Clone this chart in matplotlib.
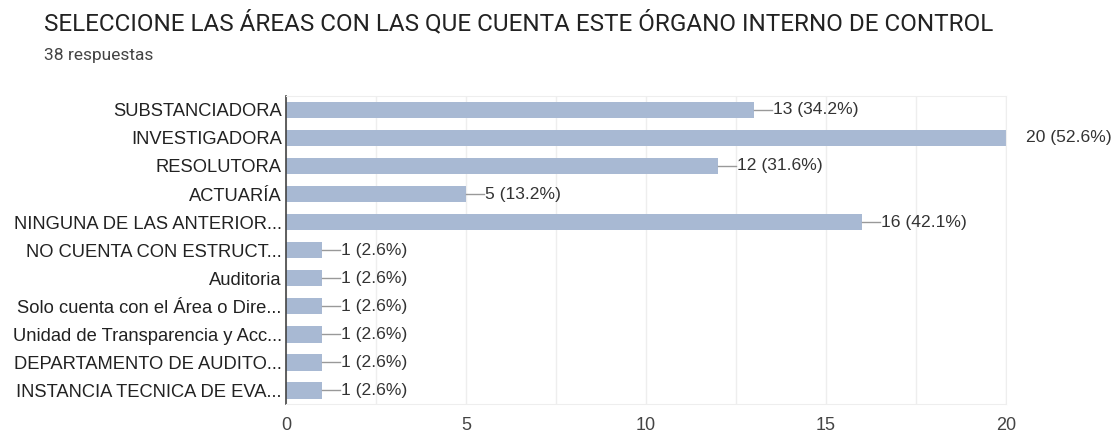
import numpy as np
import matplotlib.pyplot as plt

plt.rcParams['font.family'] = ['Liberation Sans', 'DejaVu Sans']

# data
categorias = ['SUBSTANCIADORA', 'INVESTIGADORA', 'RESOLUTORA', 'ACTUARÍA',
              'NINGUNA DE LAS ANTERIOR...', 'NO CUENTA CON ESTRUCT...',
              'Auditoria', 'Solo cuenta con el Área o Dire...',
              'Unidad de Transparencia y Acc...', 'DEPARTAMENTO DE AUDITO...',
              'INSTANCIA TECNICA DE EVA...']
conteos = [13, 20, 12, 5, 16, 1, 1, 1, 1, 1, 1]
porcentajes = [34.2, 52.6, 31.6, 13.2, 42.1, 2.6, 2.6, 2.6, 2.6, 2.6, 2.6]
xticks = [0, 5, 10, 15, 20]

fig = plt.figure(figsize=(11.17, 4.36), dpi=100)
ax = fig.add_axes([0.256, 0.073, 0.6446, 0.707])

y = np.arange(len(categorias))
ax.barh(y, conteos, height=0.6, color='#a8b9d3', zorder=2)

# value labels with the short connector line (none on the longest bar)
for yi, c, p in zip(y, conteos, porcentajes):
    if c == max(conteos):
        ax.text(c + 0.55, yi, f'{c} ({p}%)', va='center', ha='left',
                fontsize=12.6, color='#333333')
    else:
        ax.plot([c, c + 0.5], [yi, yi], color='#999999', lw=1, zorder=2)
        ax.text(c + 0.52, yi, f'{c} ({p}%)', va='center', ha='left',
                fontsize=12.6, color='#333333')

ax.set_xlim(0, 20)
ax.set_ylim(len(categorias) - 0.5, -0.5)
ax.set_yticks(y)
ax.set_yticklabels(categorias, fontsize=13.2, color='#222222')
ax.set_xticks(xticks)
ax.set_xticklabels([str(t) for t in xticks], fontsize=13, color='#444444')
ax.set_xticks(np.arange(0, 20.1, 2.5), minor=True)
ax.grid(axis='x', which='both', color='#eeeeee', lw=1, zorder=0)
ax.tick_params(axis='both', which='both', length=0)
ax.tick_params(axis='x', pad=9)
ax.tick_params(axis='y', pad=3)

for s in ['top', 'right', 'bottom']:
    ax.spines[s].set_color('#eeeeee')
ax.spines['left'].set_color('#444444')
ax.spines['left'].set_linewidth(1.2)

fig.text(0.039, 0.948, 'SELECCIONE LAS ÁREAS CON LAS QUE CUENTA ESTE ÓRGANO INTERNO DE CONTROL',
         fontsize=17.5, family='Roboto', color='#222222', va='center')
fig.text(0.039, 0.873, '38 respuestas', fontsize=12.5, family='Roboto',
         color='#444444', va='center')

fig.savefig('out.png', dpi=100)
